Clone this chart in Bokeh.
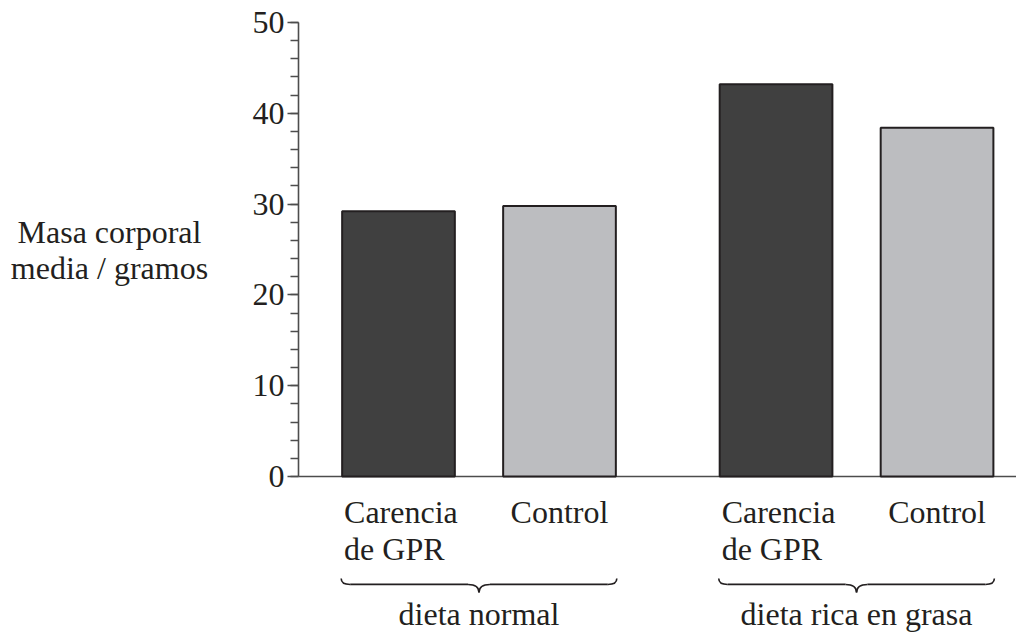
from bokeh.plotting import figure
from bokeh.models import Range1d, SingleIntervalTicker, ColumnDataSource
from bokeh.core.properties import value
from bokeh.embed import file_html
from bokeh.resources import INLINE

# ---- data ----
GROUPS = ["dieta normal", "dieta rica en grasa"]
SUBGROUPS = ["Carencia\nde GPR", "Control"]
MASS = [29.2, 29.8, 43.2, 38.4]          # group-major order
COLORS = ["#404040", "#bcbdc0"]
Y_TICK_STEP = 10
Y_MAX = 50
Y_LABEL = "Masa corporal\nmedia / gramos"

# ---- layout / style ----
FONT = "Liberation Serif"
FS = "32px"
INK = "#231f20"
GAP = 0.345          # extra space between groups (in bar-slot units)
BAR_W = 0.70
AXIS_X = -0.621
X0, X1 = -2.472, 3.8385
Y0, Y1 = -17.51, 52.42

nsub = len(SUBGROUPS)
xs, tops, fills, sub_idx, grp_idx = [], [], [], [], []
k = 0
for g in range(len(GROUPS)):
    for s in range(nsub):
        xs.append(g * (nsub + GAP) + s)
        tops.append(MASS[k])
        fills.append(COLORS[s])
        sub_idx.append(s)
        grp_idx.append(g)
        k += 1

p = figure(width=1016, height=635, output_backend="svg", toolbar_location=None,
           x_range=Range1d(X0, X1), y_range=Range1d(Y0, Y1),
           x_axis_location=None, y_axis_location="left",
           min_border=0, min_border_left=0, min_border_right=0,
           min_border_top=0, min_border_bottom=0)
p.outline_line_color = None
p.grid.visible = False
p.background_fill_color = "white"
p.border_fill_color = "white"

# y axis, fixed at AXIS_X
ya = p.yaxis[0]
ya.fixed_location = AXIS_X
ya.ticker = SingleIntervalTicker(interval=Y_TICK_STEP, num_minor_ticks=5)
ya.bounds = (0, Y_MAX)
ya.axis_line_color = "#4d4d4d"
ya.axis_line_width = 1.6
ya.major_tick_line_color = "#4d4d4d"
ya.minor_tick_line_color = "#4d4d4d"
ya.major_tick_line_width = 1.4
ya.minor_tick_line_width = 1.4
ya.major_tick_out = 11
ya.major_tick_in = 0
ya.minor_tick_out = 8
ya.minor_tick_in = 0
ya.major_label_text_font = FONT
ya.major_label_text_font_size = FS
ya.major_label_text_color = INK
ya.major_label_standoff = 3

# baseline (x axis line)
p.segment(x0=[AXIS_X], y0=[0], x1=[X1], y1=[0], line_color="#4d4d4d", line_width=1.6)

# bars
src = ColumnDataSource(dict(x=xs, top=tops, fill=fills))
p.vbar(x="x", top="top", bottom=0, width=BAR_W, source=src,
       fill_color="fill", line_color=INK, line_width=2)

# category labels
lx, lalign, ltext = [], [], []
for x, s in zip(xs, sub_idx):
    if "\n" in SUBGROUPS[s]:
        lx.append(x - BAR_W / 2 + 0.012)
        lalign.append("left")
    else:
        lx.append(x)
        lalign.append("center")
    ltext.append(SUBGROUPS[s])
lsrc = ColumnDataSource(dict(x=lx, y=[-1.98] * len(lx), text=ltext, align=lalign))
p.text(x="x", y="y", text="text", text_align="align", source=lsrc,
       text_baseline="top", text_font=value(FONT), text_font_size=FS,
       text_color=INK, text_line_height=1.02)

# braces + group labels
Y_END, Y_LINE, Y_TIP = -11.23, -11.89, -12.78
W_END, W_MID = 0.056, 0.068
qx0, qy0, qx1, qy1, qcx, qcy = [], [], [], [], [], []
sx0, sx1, sy = [], [], []
gx = []
for g in range(len(GROUPS)):
    gxs = [x for x, gi in zip(xs, grp_idx) if gi == g]
    xl = min(gxs) - BAR_W / 2 - 0.006
    xr = max(gxs) + BAR_W / 2 + 0.006
    xm = (xl + xr) / 2
    gx.append(xm)
    # end curls
    qx0 += [xl, xr]; qy0 += [Y_END, Y_END]
    qx1 += [xl + W_END, xr - W_END]; qy1 += [Y_LINE, Y_LINE]
    qcx += [xl, xr]; qcy += [Y_LINE, Y_LINE]
    # tip curves
    qx0 += [xm - W_MID, xm + W_MID]; qy0 += [Y_LINE, Y_LINE]
    qx1 += [xm, xm]; qy1 += [Y_TIP, Y_TIP]
    qcx += [xm, xm]; qcy += [Y_LINE, Y_LINE]
    # straight parts
    sx0 += [xl + W_END, xm + W_MID]
    sx1 += [xm - W_MID, xr - W_END]
    sy += [Y_LINE, Y_LINE]

p.quadratic(x0=qx0, y0=qy0, x1=qx1, y1=qy1, cx=qcx, cy=qcy,
            line_color=INK, line_width=1.6)
p.segment(x0=sx0, y0=sy, x1=sx1, y1=sy, line_color=INK, line_width=1.8)

gsrc = ColumnDataSource(dict(x=gx, y=[-15.15] * len(gx), text=GROUPS))
p.text(x="x", y="y", text="text", source=gsrc, text_align="center",
       text_baseline="alphabetic", text_font=value(FONT), text_font_size=FS,
       text_color=INK)

# y-axis title
p.text(x=[-1.795], y=[24.9], text=[Y_LABEL], text_align="center",
       text_baseline="middle", text_font=value(FONT), text_font_size=FS,
       text_color=INK, text_line_height=1.0)

open("out.html", "w").write(file_html(p, INLINE))
